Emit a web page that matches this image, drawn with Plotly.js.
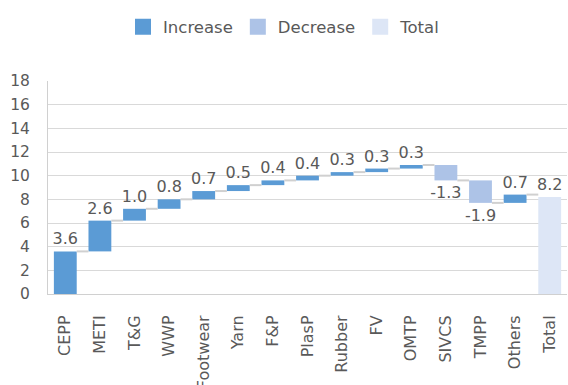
<!DOCTYPE html>
<html>
<head>
<meta charset="utf-8">
<script src="https://cdn.plot.ly/plotly-3.0.1.min.js"></script>
<style>
  html, body { margin: 0; padding: 0; background: #fff; }
  #chart { width: 568px; height: 385px; }
</style>
</head>
<body>
<div id="chart"></div>
<script>
// Contribution by sector (waterfall)
const categories = ['CEPP', 'METI', 'T&G', 'WWP', 'Footwear', 'Yarn', 'F&P', 'PlasP',
                    'Rubber', 'FV', 'OMTP', 'SIVCS', 'TMPP', 'Others', 'Total'];
const values = [3.6, 2.6, 1.0, 0.8, 0.7, 0.5, 0.4, 0.4, 0.3, 0.3, 0.3, -1.3, -1.9, 0.7, 8.2];
const isTotal = [false, false, false, false, false, false, false, false,
                 false, false, false, false, false, false, true];

const colIncrease = '#5b9bd5';
const colDecrease = '#adc3e7';
const colTotal = '#dde6f6';
const textCol = '#595959';
const font = 'DejaVu Sans, Verdana, sans-serif';
const barWidth = 0.66;

// running totals: start and end level of every bar
const starts = [], ends = [];
let run = 0;
values.forEach((v, i) => {
  if (isTotal[i]) { starts.push(0); ends.push(v); run = v; }
  else { starts.push(run); run += v; ends.push(run); }
});

function barTrace(name, color, pick) {
  const x = [], y = [], base = [], text = [];
  values.forEach((v, i) => {
    if (pick(v, i)) {
      x.push(i); y.push(v); base.push(starts[i]); text.push(v.toFixed(1));
    }
  });
  return {
    type: 'bar', name: name, x: x, y: y, base: base, text: text,
    width: barWidth, marker: { color: color, line: { width: 0 } },
    textposition: 'outside', constraintext: 'none', cliponaxis: false,
    textfont: { family: font, size: 16, color: textCol },
    showlegend: false, hoverinfo: 'skip'
  };
}

// connector lines between neighbouring bars
const cx = [], cy = [];
for (let i = 0; i < values.length - 1; i++) {
  cx.push(i + barWidth / 2, i + 1 - barWidth / 2, null);
  cy.push(ends[i], ends[i], null);
}

function legendEntry(name, color) {
  return {
    type: 'scatter', mode: 'markers', name: name, x: [null], y: [null],
    marker: { symbol: 'square', size: 16, color: color }, hoverinfo: 'skip'
  };
}

const traces = [
  { type: 'scatter', mode: 'lines', x: cx, y: cy, showlegend: false, hoverinfo: 'skip',
    line: { color: '#d0d0d0', width: 2 } },
  barTrace('Increase', colIncrease, (v, i) => !isTotal[i] && v >= 0),
  barTrace('Decrease', colDecrease, (v, i) => !isTotal[i] && v < 0),
  barTrace('Total', colTotal, (v, i) => isTotal[i]),
  legendEntry('Increase', colIncrease),
  legendEntry('Decrease', colDecrease),
  legendEntry('Total', colTotal)
];

const layout = {
  width: 568, height: 385,
  margin: { l: 48, r: 1, t: 81, b: 91 },
  paper_bgcolor: '#fff', plot_bgcolor: '#fff',
  barmode: 'overlay',
  font: { family: font, color: textCol },
  showlegend: true,
  legend: {
    orientation: 'h', xref: 'container', yref: 'container',
    x: 0.5, xanchor: 'center', y: 0.93, yanchor: 'middle',
    font: { family: font, size: 16.5, color: textCol },
    itemclick: false, itemdoubleclick: false
  },
  xaxis: {
    type: 'linear', range: [-0.5, categories.length - 0.5],
    tickmode: 'array', tickvals: categories.map((c, i) => i), ticktext: categories,
    tickangle: -90, ticks: '', showgrid: false, zeroline: false,
    showline: true, linecolor: '#d0d0d0', linewidth: 1,
    ticklabelstandoff: 14,
    tickfont: { family: font, size: 16, color: textCol }
  },
  yaxis: {
    range: [0, 18], dtick: 2, tick0: 0, ticks: '',
    showgrid: true, gridcolor: '#d9d9d9', gridwidth: 1,
    zeroline: false, showline: true, linecolor: '#d0d0d0', linewidth: 1,
    ticklabelstandoff: 14,
    tickfont: { family: font, size: 15.5, color: textCol }
  }
};

Plotly.newPlot('chart', traces, layout, { displayModeBar: false, staticPlot: true });
</script>
</body>
</html>
